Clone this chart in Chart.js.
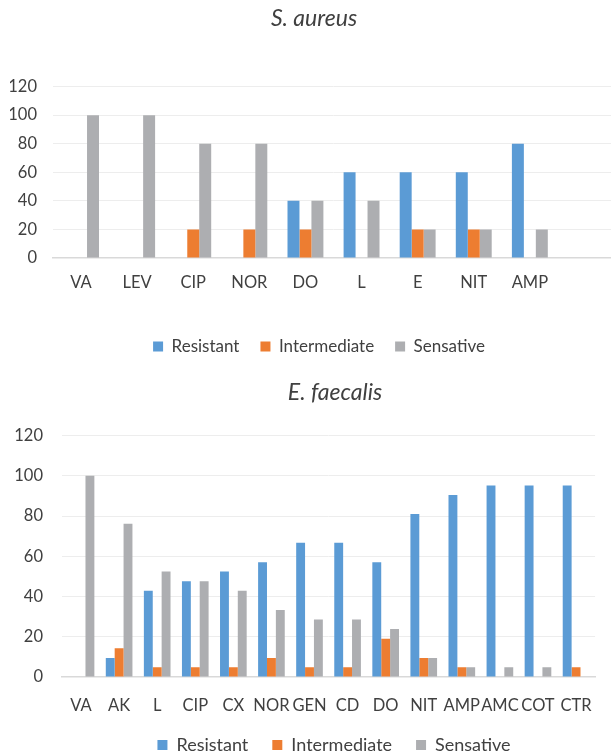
<!DOCTYPE html>
<html>
<head>
<meta charset="utf-8">
<script src="https://cdn.jsdelivr.net/npm/chart.js@4.4.0/dist/chart.umd.min.js"></script>
<style>
  html, body { margin: 0; padding: 0; background: #fff; overflow: hidden; }
  #wrapTop { position: absolute; left: 0; top: 0; width: 611px; height: 370px; overflow: hidden; }
  #wrapBottom { position: absolute; left: 0; top: 370px; width: 611px; height: 385px; overflow: hidden; }
</style>
</head>
<body>
<div id="wrapTop"><canvas id="aureusChart" width="614" height="370" style="width:614px;height:370px"></canvas></div>
<div id="wrapBottom"><canvas id="faecalisChart" width="611" height="395" style="width:611px;height:395px"></canvas></div>
<script>
// S. aureus (%)
const aureusLabels = ['VA', 'LEV', 'CIP', 'NOR', 'DO', 'L', 'E', 'NIT', 'AMP', ''];
const aureusResistant = [0, 0, 0, 0, 40, 60, 60, 60, 80, null];
const aureusIntermediate = [0, 0, 20, 20, 20, 0, 20, 20, 0, null];
const aureusSensative = [100, 100, 80, 80, 40, 40, 20, 20, 20, null];

// E. faecalis (%)
const faecalisLabels = ['VA', 'AK', 'L', 'CIP', 'CX', 'NOR', 'GEN', 'CD', 'DO', 'NIT', 'AMP', 'AMC', 'COT', 'CTR'];
const faecalisResistant = [0, 9.5, 42.9, 47.6, 52.4, 57.1, 66.7, 66.7, 57.1, 81.0, 90.5, 95.2, 95.2, 95.2];
const faecalisIntermediate = [0, 14.3, 4.8, 4.8, 4.8, 9.5, 4.8, 4.8, 19.0, 9.5, 4.8, 0, 0, 4.8];
const faecalisSensative = [100, 76.2, 52.4, 47.6, 42.9, 33.3, 28.6, 28.6, 23.8, 9.5, 4.8, 4.8, 4.8, 0];

const yTicks = [0, 20, 40, 60, 80, 100, 120];

const BLUE = '#5B9BD5';
const ORANGE = '#ED7D31';
const GREY = '#ADAEB1';
const TEXT = '#404040';
const FONT = 'Lato';

// Excel had title and legend placed a bit right of the plot centre
const boxShift = {
    id: 'boxShift',
    afterLayout(chart, args, opts) {
        const ld = opts.legendDx || 0;
        const td = opts.titleDx || 0;
        chart.legend.left += ld;
        chart.legend.right += ld;
        chart.titleBlock.left += td;
        chart.titleBlock.right += td;
    }
};

function makeChart(canvasId, s) {
    const ctx = document.getElementById(canvasId).getContext('2d');
    return new Chart(ctx, {
        type: 'bar',
        data: {
            labels: s.labels,
            datasets: [
                { label: 'Resistant', data: s.resistant, backgroundColor: BLUE },
                { label: 'Intermediate', data: s.intermediate, backgroundColor: ORANGE },
                { label: 'Sensative', data: s.sensative, backgroundColor: GREY }
            ]
        },
        plugins: [boxShift],
        options: {
            responsive: false,
            animation: false,
            layout: { padding: s.padding },
            datasets: {
                bar: { barPercentage: 1, categoryPercentage: s.catPct }
            },
            scales: {
                x: {
                    grid: { display: false, drawTicks: false },
                    border: { color: '#D9D9D9', width: 1.5 },
                    ticks: {
                        autoSkip: false, maxRotation: 0, minRotation: 0,
                        padding: s.xPad, color: TEXT,
                        font: { family: FONT, size: s.tickSize }
                    },
                    afterFit: (scale) => { scale.height = s.xHeight; }
                },
                y: {
                    min: 0, max: 120,
                    afterBuildTicks: (scale) => { scale.ticks = yTicks.map(v => ({ value: v })); },
                    grid: {
                        drawTicks: false,
                        color: (c) => c.tick && c.tick.value === 0 ? 'rgba(0,0,0,0)' : '#EDEDED'
                    },
                    border: { display: false },
                    ticks: {
                        padding: s.yPad, color: TEXT,
                        font: { family: FONT, size: s.tickSize }
                    },
                    afterFit: (scale) => { scale.width = s.yWidth; }
                }
            },
            plugins: {
                title: {
                    display: true,
                    text: s.title,
                    color: TEXT,
                    font: { family: FONT, size: s.titleSize, style: 'italic', weight: 'normal' },
                    padding: s.titlePad
                },
                legend: {
                    position: 'bottom',
                    labels: {
                        boxWidth: 10, boxHeight: 10,
                        padding: s.legendPad,
                        color: TEXT,
                        font: { family: FONT, size: s.legendSize }
                    }
                },
                boxShift: { legendDx: s.legendDx, titleDx: s.titleDx },
                tooltip: { enabled: false }
            }
        }
    });
}

makeChart('aureusChart', {
    title: 'S. aureus',
    labels: aureusLabels,
    resistant: aureusResistant,
    intermediate: aureusIntermediate,
    sensative: aureusSensative,
    padding: { left: 10, right: 0, top: 0, bottom: 5 },
    catPct: 0.64,
    titleSize: 23, titlePad: { top: 5, bottom: 54 },
    tickSize: 16.5, legendSize: 17,
    xPad: 15, xHeight: 59,
    yPad: 16, yWidth: 43,
    legendPad: 21, legendDx: 7, titleDx: 2
});

makeChart('faecalisChart', {
    title: 'E. faecalis',
    labels: faecalisLabels,
    resistant: faecalisResistant,
    intermediate: faecalisIntermediate,
    sensative: faecalisSensative,
    padding: { left: 14, right: 11, top: 0, bottom: 1 },
    catPct: 0.70,
    titleSize: 23, titlePad: { top: 9, bottom: 29 },
    tickSize: 16.5, legendSize: 18,
    xPad: 19, xHeight: 35,
    yPad: 19, yWidth: 48,
    legendPad: 24, legendDx: 27, titleDx: 28
});
</script>
</body>
</html>
